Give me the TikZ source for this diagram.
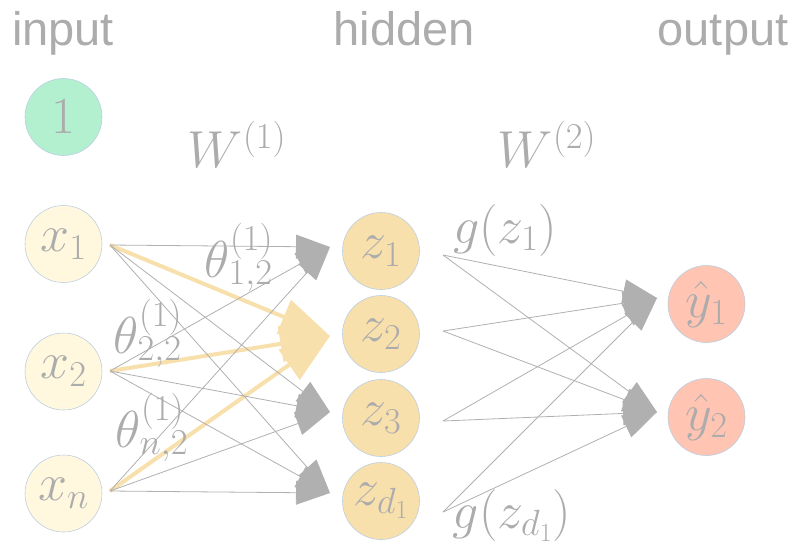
\RequirePackage{fix-cm}
\documentclass[tikz,border=0pt]{standalone}
\usepackage{fontspec}
\newfontfamily\headfont{Liberation Sans}
\usetikzlibrary{arrows.meta}
\definecolor{txtgray}{RGB}{172,172,172}
\definecolor{edgegray}{RGB}{176,176,176}
\definecolor{rimblue}{RGB}{188,206,226}
\definecolor{biasfill}{RGB}{178,240,208}
\definecolor{infill}{RGB}{255,248,222}
\definecolor{hidfill}{RGB}{248,224,172}
\definecolor{outfill}{RGB}{255,196,178}
\newcommand\bigmath{\fontsize{52}{62}\selectfont}
\begin{document}
\begin{tikzpicture}[x=1pt, y=-1pt, >={Triangle[length=30pt 5, width=21pt 3.75]},
  unit/.style={circle, draw=rimblue, line width=.6pt, minimum size=77pt, inner sep=0pt, text=txtgray, font=\bigmath},
  head/.style={anchor=base, text=txtgray, font={\headfont\fontsize{47}{56}\selectfont}},
  lbl/.style={anchor=base, text=txtgray, font=\bigmath},
  edge/.style={draw=edgegray, line width=.8pt},
  hot/.style={draw=hidfill, line width=4pt}]
\useasboundingbox (0,0) rectangle (794,550);
% layer titles
\node[head] (tin) at (63,45) {input};
\node[head] (thid) at (404,45) {hidden};
\node[head] (tout) at (723,45) {output};
% units
\node[unit, fill=biasfill] (b) at (63.5,117) {$1$};
\node[unit, fill=infill] (x1) at (63.5,244) {$x_1$};
\node[unit, fill=infill] (x2) at (63.5,371.5) {$x_2$};
\node[unit, fill=infill] (xn) at (63.5,493.5) {$x_n$};
\node[unit, fill=hidfill] (z1) at (381,251) {$z_1$};
\node[unit, fill=hidfill] (z2) at (381,334) {$z_2$};
\node[unit, fill=hidfill] (z3) at (381,418) {$z_3$};
\node[unit, fill=hidfill] (zd) at (381,501) {$z_{d_1}$};
\node[unit, fill=outfill] (y1) at (706.5,304) {$\hat{y}_1$};
\node[unit, fill=outfill] (y2) at (706.5,417) {$\hat{y}_2$};
% ends of the connectors
\coordinate (s1) at (110,245);
\coordinate (s2) at (110,371);
\coordinate (sn) at (110,491);
\coordinate (t1) at (330,247);
\coordinate (t2) at (330,336);
\coordinate (t3) at (330,412);
\coordinate (td) at (330,493);
\coordinate (h1) at (443,255);
\coordinate (h2) at (443,331);
\coordinate (h3) at (443,421);
\coordinate (hd) at (443,512);
\coordinate (o1) at (657,298);
\coordinate (o2) at (657,412);
% weights into z_2
\foreach \s in {s1,s2,sn}
  \draw[hot,->] (\s) -- (t2);
\foreach \s in {s1,s2,sn}
  \foreach \t in {t1,t3,td}
    \draw[edge,->] (\s) -- (\t);
\foreach \s in {h1,h2,h3,hd}
  \foreach \t in {o1,o2}
    \draw[edge,->] (\s) -- (\t);
% labels
\node[lbl] (w1) at (237,167) {$W^{(1)}$};
\node[lbl] (w2) at (547,167) {$W^{(2)}$};
\node[lbl] (th1) at (239,277) {$\theta^{(1)}_{1,2}$};
\node[lbl] (th2) at (148,353) {$\theta^{(1)}_{2,2}$};
\node[lbl] (thn) at (152,447) {$\theta^{(1)}_{n,2}$};
\node[lbl] (g1) at (505,243) {$g(z_1)$};
\node[lbl] (gd) at (512,528) {$g(z_{d_1})$};
\end{tikzpicture}
\end{document}
